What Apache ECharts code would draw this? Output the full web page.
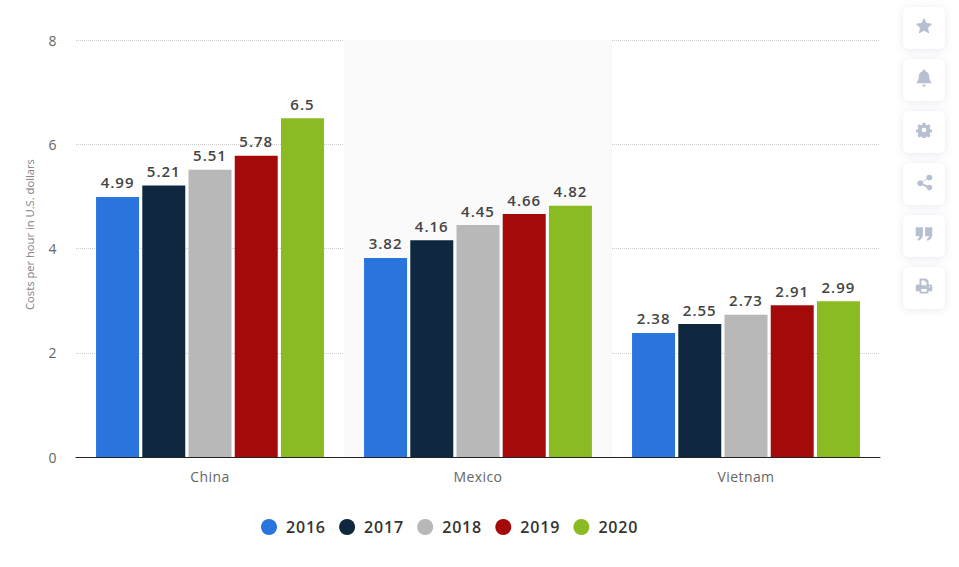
<!doctype html>
<html>
<head>
<meta charset="UTF-8">
<title>Costs per hour</title>
<style>
html,body{margin:0;padding:0;background:#fff;overflow:hidden}
#chart{width:959px;height:567px}
.btn{position:absolute;left:903px;width:42px;height:42px;border-radius:6px;background:#fff;box-shadow:0 1px 8px rgba(120,135,165,0.18);display:flex;align-items:center;justify-content:center}
.btn svg{fill:#b7c0d0;display:block;margin-top:-4px}
/* original text is tracked out a bit, only svg text can do this */
#chart text{letter-spacing:.4px}
#chart text[style*="15px"]{letter-spacing:1px}
#chart text[style*="16px"]{letter-spacing:.8px}
#chart text[style*="11.2px"]{letter-spacing:0}
</style>
</head>
<body>
<div id="chart"></div>
<div id="toolbar"></div>
<script src="https://cdn.jsdelivr.net/npm/echarts@6/dist/echarts.min.js"></script>
<script>
var countries = ['China', 'Mexico', 'Vietnam'];
var years = ['2016', '2017', '2018', '2019', '2020'];
var v2016 = [4.99, 3.82, 2.38];
var v2017 = [5.21, 4.16, 2.55];
var v2018 = [5.51, 4.45, 2.73];
var v2019 = [5.78, 4.66, 2.91];
var v2020 = [6.5, 4.82, 2.99];
var yearValues = [v2016, v2017, v2018, v2019, v2020];
var colors = ['#2a74de', '#0f2840', '#b8b8b8', '#a50a0a', '#8abb23'];

var font = '"Open Sans", sans-serif';

// side toolbar, not part of the chart
var iconPaths = [
	'M12 1l3.4 7 7.6 1-5.5 5.3 1.3 7.7-6.8-3.6-6.8 3.6 1.3-7.7L1 9l7.6-1z',
	'M12 0.500c1 0 1.800.8 1.800 1.800v.8c3.300.8 5.200 3.600 5.200 7 0 4 1 5.600 2.800 7.600.4.500.1 1.300-.6 1.300H2.800c-.7 0-1-.8-.6-1.300C4 15.700 5 14.100 5 10.100c0-3.400 1.900-6.200 5.200-7v-.8C10.200 1.300 11 .5 12 .5zM9.500 21h5c0 1.400-1.100 2.500-2.500 2.500S9.500 22.400 9.500 21z',
	'M10 1h4l.6 3 2.100.9 2.600-1.700 2.800 2.800-1.700 2.600.9 2.100 3 .6v4l-3 .6-.9 2.100 1.700 2.600-2.800 2.800-2.600-1.700-2.100.9-.6 3h-4l-.6-3-2.100-.9-2.600 1.700-2.800-2.800 1.700-2.600-.9-2.100-3-.6v-4l3-.6.9-2.100-1.700-2.600 2.800-2.800 2.600 1.700 2.100-.9zM12 8.500a3.500 3.500 0 1 0 0 7 3.500 3.500 0 0 0 0-7z',
	'M19 1a4 4 0 1 1-3 6.600l-6.100 3a4 4 0 0 1 0 2.800l6.100 3a4 4 0 1 1-1 2.600l-6.300-3.100a4 4 0 1 1 0-5.800L15 7a4 4 0 0 1 4-6z',
	'M1 3h9.500v10c0 4-2.500 7-6.500 8l-1-2.500c2-.7 3-2 3.200-3.500H1zM13.500 3H23v10c0 4-2.500 7-6.500 8l-1-2.500c2-.7 3-2 3.200-3.500h-5.200z',
	'M6 2h9l3 3v5h2.500c1.400 0 2.500 1.100 2.500 2.500V19h-5v3H6v-3H1v-6.500C1 11.100 2.100 10 3.500 10H6zM8.500 4.500V11h7V6.500h-2v-2zM8.500 16v3.500h7V16zM19.500 12a1 1 0 1 0 0 2 1 1 0 0 0 0-2z'
];
var iconSizes = [18, 18, 16, 17, 18, 18];
var buttonTops = [7, 59, 111, 163, 215, 267];
document.getElementById('toolbar').innerHTML = buttonTops.map(function (top, i) {
	var s = iconSizes[i];
	return '<div class="btn" style="top:' + top + 'px"><svg width="' + s + '" height="' + s + '" viewBox="0 0 24 24" fill-rule="evenodd"><path d="' + iconPaths[i] + '"/></svg></div>';
}).join('');

var chart = echarts.init(document.getElementById('chart'), null, {renderer: 'svg'});
chart.setOption({
	backgroundColor: '#fff',
	animation: false,
	color: colors,
	legend: {
		data: years,
		left: 256,
		top: 514,
		icon: 'circle',
		itemWidth: 16,
		itemHeight: 16,
		itemGap: 16.5,
		textStyle: {fontFamily: font, fontSize: 16, fontWeight: 600, color: '#333', padding: [0, 0, 0, 4]}
	},
	grid: {left: 76, right: 79, top: 40, bottom: 110},
	xAxis: {
		type: 'category',
		data: countries,
		axisTick: {show: false},
		axisLine: {lineStyle: {color: '#222', width: 1}},
		axisLabel: {fontFamily: font, fontSize: 14, color: '#666', margin: 12},
		splitArea: {show: true, areaStyle: {color: ['rgba(0,0,0,0)', '#fafafa']}}
	},
	yAxis: {
		type: 'value',
		min: 0,
		max: 8,
		interval: 2,
		name: 'Costs per hour in U.S. dollars',
		nameLocation: 'middle',
		nameGap: 41,
		nameTextStyle: {fontFamily: font, fontSize: 11.2, color: '#808080', padding: [0, 0, 0, 28]},
		axisLine: {show: false},
		axisTick: {show: false},
		axisLabel: {fontFamily: font, fontSize: 14, color: '#666', margin: 19},
		splitLine: {lineStyle: {type: 'dotted', color: '#ccc', width: 1}}
	},
	series: years.map(function (y, i) {
		return {
			name: y,
			type: 'bar',
			data: yearValues[i],
			barWidth: 43,
			barGap: '7.5%',
			label: {
				show: true,
				position: 'top',
				distance: 7,
				fontFamily: font,
				fontSize: 15,
				fontWeight: 600,
				color: '#444'
			}
		};
	})
});
</script>
</body>
</html>
